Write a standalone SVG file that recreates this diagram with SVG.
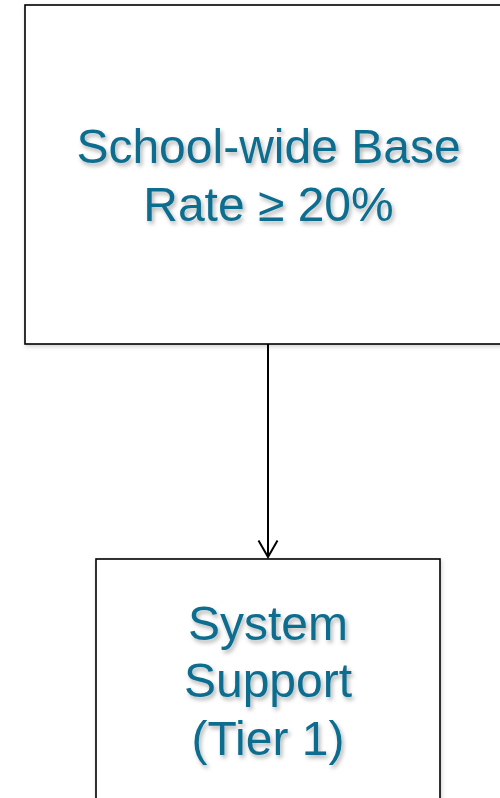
<svg xmlns="http://www.w3.org/2000/svg" width="500" height="798" viewBox="0 0 500 798">
  <defs>
    <filter id="soft" x="-10%" y="-20%" width="130%" height="150%">
      <feDropShadow dx="2" dy="3" stdDeviation="2" flood-color="#000" flood-opacity="0.3"/>
    </filter>
    <filter id="boxShade" x="-5%" y="-5%" width="110%" height="110%">
      <feDropShadow dx="1" dy="2" stdDeviation="2" flood-color="#000" flood-opacity="0.18"/>
    </filter>
  </defs>
  <style>
    .box { fill: #ffffff; stroke: #000000; stroke-width: 1.6; }
    .label { font-family: "Liberation Sans", Arial, sans-serif; font-size: 48px; fill: #0b6d8f; text-anchor: middle; }
    .wire { stroke: #000000; stroke-width: 2; fill: none; }
  </style>
  <rect width="500" height="798" fill="#ffffff"/>

  <g id="connectors">
    <line class="wire" x1="268" y1="344" x2="268" y2="557"/>
    <polyline class="wire" points="258.5,540.5 268,557 277.5,540.5"/>
  </g>

  <g id="base-rate">
    <rect class="box" x="25" y="5" width="490" height="339" filter="url(#boxShade)"/>
    <g class="label" filter="url(#soft)">
      <text x="268.5" y="163">School-wide Base</text>
      <text x="268.5" y="221">Rate ≥ 20%</text>
    </g>
  </g>

  <g id="system-support">
    <rect class="box" x="96" y="559" width="344" height="260" filter="url(#boxShade)"/>
    <g class="label" filter="url(#soft)">
      <text x="268" y="640">System</text>
      <text x="268" y="697">Support</text>
      <text x="268" y="755">(Tier 1)</text>
    </g>
  </g>
</svg>
